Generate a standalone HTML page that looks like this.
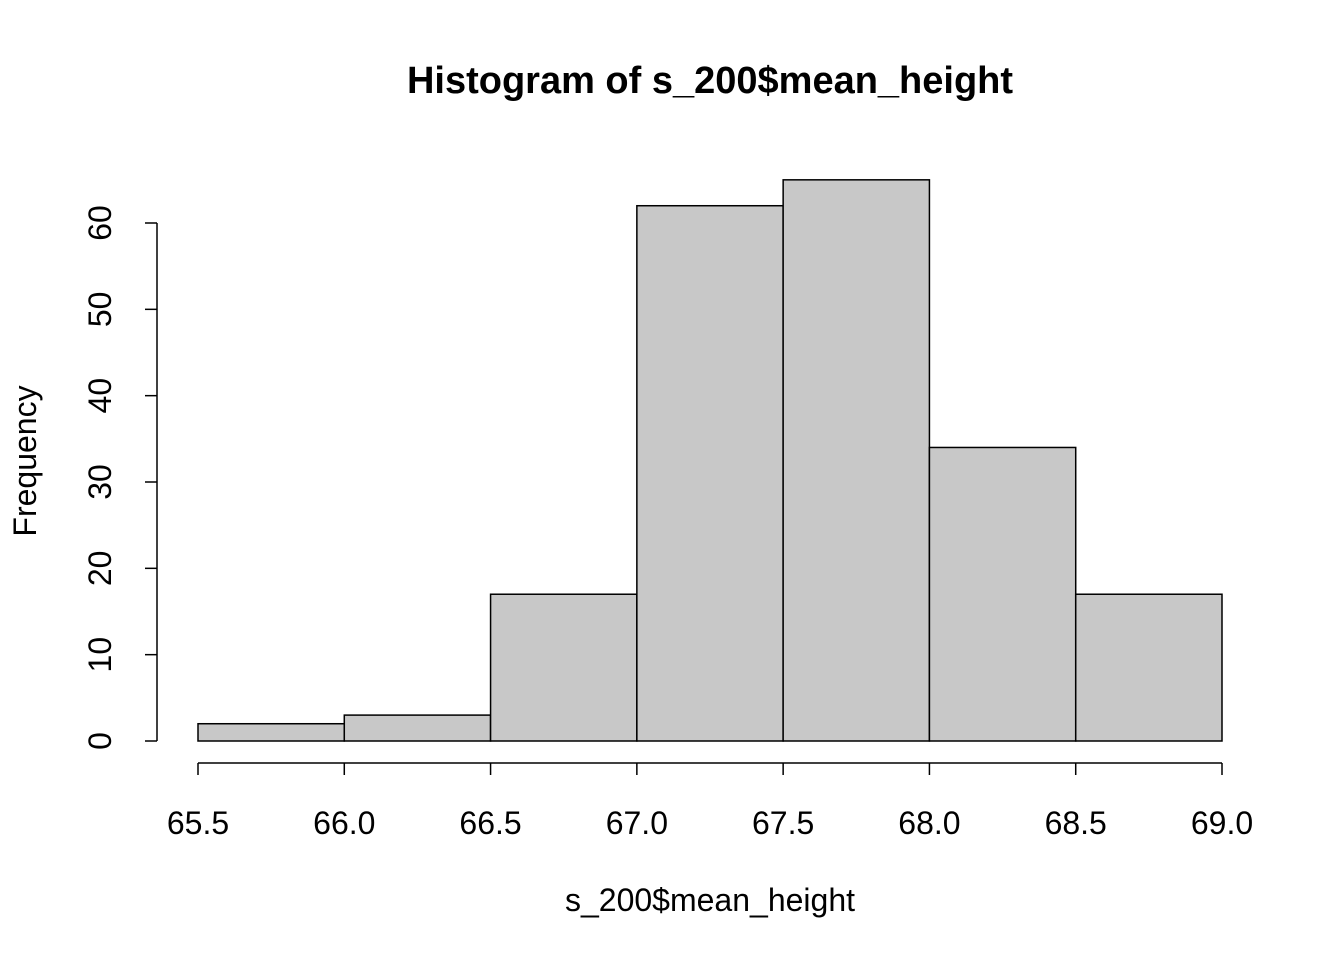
<!DOCTYPE html>
<html><head><meta charset="utf-8"><style>
body{margin:0;background:#fff}
svg text{font-family:"Liberation Sans",Arial,sans-serif}
</style></head><body>
<svg id="chart" width="1344" height="960" xmlns="http://www.w3.org/2000/svg">
<text x="710" y="93" text-anchor="middle" font-size="38" font-weight="bold">Histogram of s_200$mean_height</text>
<text x="710" y="911" text-anchor="middle" font-size="32">s_200$mean_height</text>
<text transform="translate(36,461) rotate(-90)" text-anchor="middle" font-size="32">Frequency</text>
<g id="bars"></g>
<g id="xaxis"></g>
<g id="yaxis"></g>
</svg>
<script>
const breaks=[65.5,66.0,66.5,67.0,67.5,68.0,68.5,69.0];
const counts=[2,3,17,62,65,34,17];
const xTicks=[65.5,66.0,66.5,67.0,67.5,68.0,68.5,69.0];
const yTicks=[0,10,20,30,40,50,60];
const NS="http://www.w3.org/2000/svg";
const x=v=>198+(v-65.5)*(1222-198)/3.5;
const y=v=>741-v*(741-223)/60;
function mk(t,a,p){const e=document.createElementNS(NS,t);for(const k in a)e.setAttribute(k,a[k]);p.appendChild(e);return e;}
const bars=document.getElementById('bars');
counts.forEach((c,i)=>{
 const r=mk('rect',{x:x(breaks[i]),y:y(c),width:x(breaks[i+1])-x(breaks[i]),height:y(0)-y(c),fill:'#c8c8c8',stroke:'#000','stroke-width':1.5},bars);
 
 
});
const xa=document.getElementById('xaxis');
mk('line',{x1:x(xTicks[0]),x2:x(xTicks[xTicks.length-1]),y1:763,y2:763,stroke:'#000','stroke-width':1.5},xa);
xTicks.forEach(t=>{
 mk('line',{x1:x(t),x2:x(t),y1:763,y2:775,stroke:'#000','stroke-width':1.5},xa);
 const tx=mk('text',{x:x(t),y:834,'text-anchor':'middle','font-size':32},xa);
 tx.textContent=t.toFixed(1);
 
 
});
const ya=document.getElementById('yaxis');
mk('line',{x1:157,x2:157,y1:y(yTicks[0]),y2:y(yTicks[yTicks.length-1]),stroke:'#000','stroke-width':1.5},ya);
yTicks.forEach(t=>{
 mk('line',{x1:145,x2:157,y1:y(t),y2:y(t),stroke:'#000','stroke-width':1.5},ya);
 const tx=mk('text',{transform:`translate(111,${y(t)}) rotate(-90)`,'text-anchor':'middle','font-size':32},ya);
 tx.textContent=t;
 
 
});
</script>
</body></html>
